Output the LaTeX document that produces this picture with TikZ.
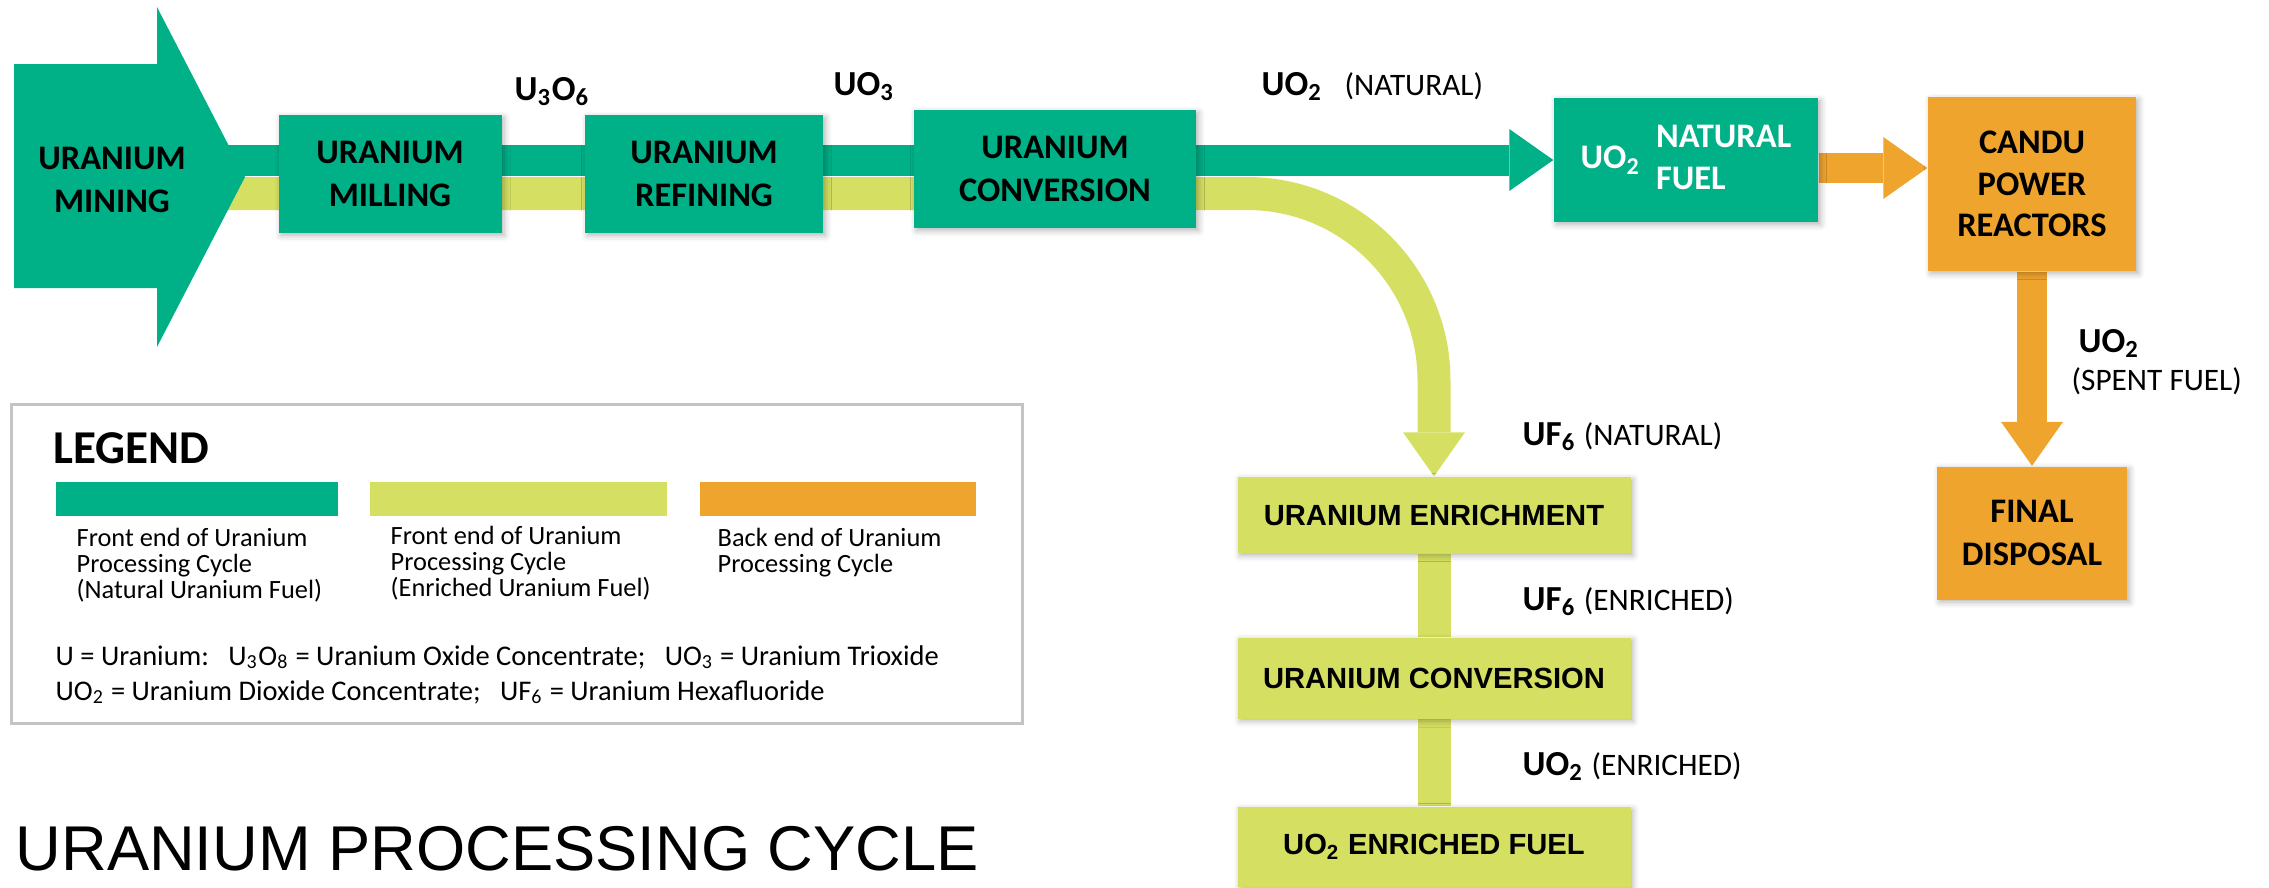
\documentclass[tikz,border=0pt]{standalone}
\usepackage{fontspec}
\setmainfont{Carlito}
\newfontfamily\arialfont{Liberation Sans}
\usetikzlibrary{arrows.meta,shadows.blur}
\definecolor{natgreen}{RGB}{0,176,135}
\definecolor{enryellow}{RGB}{213,224,98}
\definecolor{backorange}{RGB}{239,164,46}
\definecolor{framegray}{RGB}{196,196,196}
\pgfdeclarelayer{background}
\pgfsetlayers{background,main}
\newcommand{\phase}[1]{{\mdseries\fontsize{8.9}{10.8}\selectfont #1}}

\tikzset{
  stagetext/.style={inner sep=0pt, align=center, font=\bfseries\fontsize{9.8}{12}\selectfont},
  stage/.style={stagetext, rectangle,
    blur shadow={shadow xshift=0.25mm, shadow yshift=-0.25mm, shadow blur radius=0.6mm, shadow opacity=30}},
  natbox/.style={stage, fill=natgreen},
  enrbox/.style={stage, fill=enryellow, font=\arialfont\bfseries\fontsize{8.3}{10}\selectfont},
  backbox/.style={stage, fill=backorange},
  natflow/.style={draw=natgreen, line width=3.1mm},
  enrflow/.style={draw=enryellow, line width=3.3mm},
  backflow/.style={draw=backorange, line width=3mm},
  fattip/.style={-{Triangle[length=4.4mm, width=6.2mm, line width=0pt]}},
  formula/.style={anchor=base west, inner sep=0pt, font=\bfseries\fontsize{10}{12}\selectfont},
  swatch/.style={rectangle, inner sep=0pt, minimum height=3.4mm},
  keytext/.style={anchor=north west, inner sep=0pt, align=left, font=\fontsize{7.5}{7.4}\selectfont},
  abbrtext/.style={anchor=base west, inner sep=0pt, font=\fontsize{8.1}{10}\selectfont},
}

\begin{document}
\begin{tikzpicture}[x=0.1mm, y=-0.1mm]
  \useasboundingbox (0,0) rectangle (2269,887);

  % mining arrow
  \fill[natgreen] (14,64) -- (157,64) -- (157,7) -- (245,177) -- (157,347) -- (157,288) -- (14,288) -- cycle;
  \node[stagetext] (mining) at (112,180) {URANIUM\\MINING};

  % front end, natural
  \node[natbox, minimum width=22.3mm, minimum height=11.8mm] (mill) at (390,174) {URANIUM\\MILLING};
  \node[natbox, minimum width=23.8mm, minimum height=11.8mm] (refine) at (704,174) {URANIUM\\REFINING};
  \node[natbox, minimum width=28.2mm, minimum height=11.8mm] (conv) at (1055,169) {URANIUM\\CONVERSION};
  \node[natbox, minimum width=26.4mm, minimum height=12.4mm, text=white] (natfuel) at (1686,160)
    {UO\textsubscript{2}\ \ \begin{tabular}{@{}l@{}}NATURAL\\FUEL\end{tabular}};

  % back end
  \node[backbox, minimum width=20.8mm, minimum height=17.4mm, font=\bfseries\fontsize{9.8}{11.8}\selectfont] (candu) at (2032,184) {CANDU\\POWER\\REACTORS};
  \node[backbox, minimum width=19mm, minimum height=13.3mm] (disposal) at (2032,533) {FINAL\\DISPOSAL};

  % front end, enriched
  \node[enrbox, minimum width=39.3mm, minimum height=7.6mm] (enrich) at (1434,515) {URANIUM ENRICHMENT};
  \node[enrbox, minimum width=39.3mm, minimum height=8.1mm] (enrconv) at (1434,678) {URANIUM CONVERSION};
  \node[enrbox, minimum width=39.3mm, minimum height=8mm] (enrfuel) at (1434,847) {UO\textsubscript{2} ENRICHED FUEL};

  \begin{pgfonlayer}{background}
    \draw[natflow, fattip] (mining.center |- natfuel.west) -- (natfuel.west);
    \draw[enrflow, fattip, rounded corners=18.7mm] ([yshift=-1.35mm]mining.center) -| (enrich.north);
    \path ([yshift=1.6mm]candu.west) coordinate (candin);
    \draw[backflow, fattip] (natfuel.east |- candin) -- (candin);
    \draw[backflow, fattip] (candu.south) -- (disposal.north);
    \draw[enrflow] (enrich) -- (enrconv);
    \draw[enrflow] (enrconv) -- (enrfuel);
  \end{pgfonlayer}

  % flow labels
  \node[formula] (u3o6) at (514,100) {U\textsubscript{3}O\textsubscript{6}};
  \node[formula] (uo3) at (833,95) {UO\textsubscript{3}};
  \node[formula] (uo2nat) at (1261,95) {UO\textsubscript{2}\hspace{2.2mm}\phase{(NATURAL)}};
  \node[formula] (uf6nat) at (1522,445) {UF\textsubscript{6} \phase{(NATURAL)}};
  \node[formula] (uf6enr) at (1522,610) {UF\textsubscript{6} \phase{(ENRICHED)}};
  \node[formula] (uo2enr) at (1522,775) {UO\textsubscript{2} \phase{(ENRICHED)}};
  \node[formula] (uo2spent) at (2078,352) {UO\textsubscript{2}};
  \node[formula] (spent) at (2071,390) {\phase{(SPENT FUEL)}};

  % legend
  \node[draw=framegray, line width=0.3mm, minimum width=101.1mm, minimum height=31.9mm, inner sep=0pt] (legend) at (516.5,563.5) {};
  \node[anchor=base west, inner sep=0pt, font=\bfseries\fontsize{13.4}{16}\selectfont] (legendhead) at (53,463) {LEGEND};
  \node[swatch, fill=natgreen, minimum width=28.2mm] (keynat) at (197,499) {};
  \node[swatch, fill=enryellow, minimum width=29.7mm] (keyenr) at (518.5,498.5) {};
  \node[swatch, fill=backorange, minimum width=27.6mm] (keyback) at (838,498.5) {};
  \node[keytext] (natnote) at (76,527) {Front end of Uranium\\Processing Cycle\\(Natural Uranium Fuel)};
  \node[keytext] (enrnote) at (390,525) {Front end of Uranium\\Processing Cycle\\(Enriched Uranium Fuel)};
  \node[keytext] (backnote) at (717,527) {Back end of Uranium\\Processing Cycle};
  \node[abbrtext] (abbr1) at (55,665) {U = Uranium:\ \ \ U\textsubscript{3}O\textsubscript{8} = Uranium Oxide Concentrate;\ \ \ UO\textsubscript{3} = Uranium Trioxide};
  \node[abbrtext] (abbr2) at (55,700) {UO\textsubscript{2} = Uranium Dioxide Concentrate;\ \ \ UF\textsubscript{6} = Uranium Hexafluoride};

  \node[anchor=base west, inner sep=0pt, font=\arialfont\fontsize{18}{22}\selectfont] (title) at (15,870) {URANIUM PROCESSING CYCLE};
\end{tikzpicture}
\end{document}
